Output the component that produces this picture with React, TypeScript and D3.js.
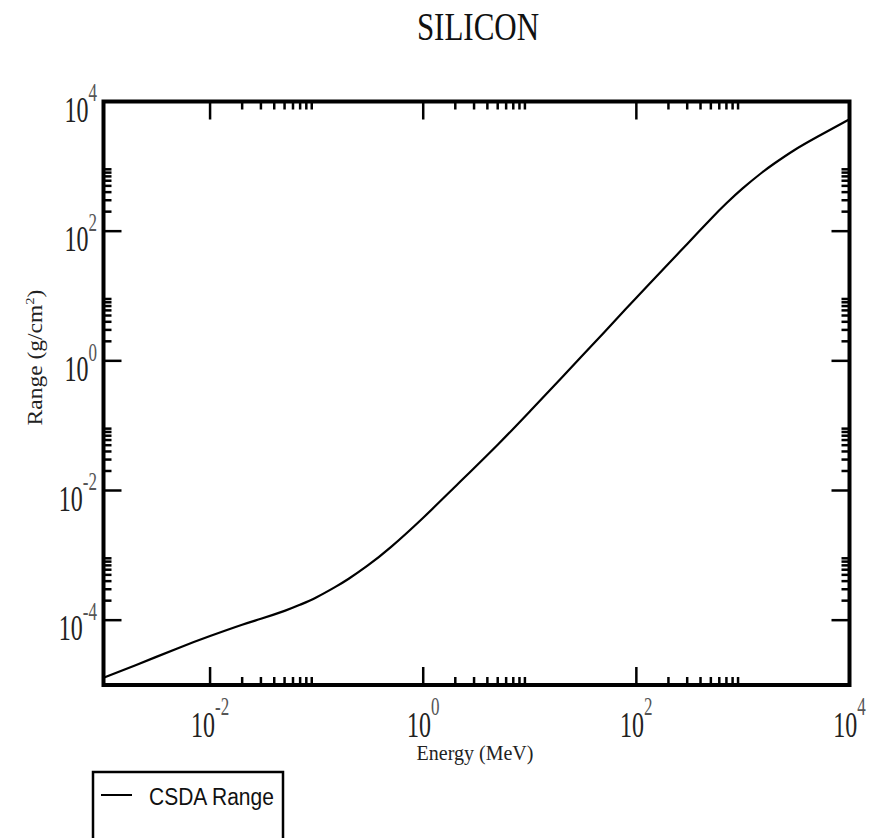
import React from "react";
import * as d3 from "d3";

// Data (Silicon, CSDA range vs energy)
const energyMeV = [1e-3, 2e-3, 5e-3, 1e-2, 2e-2, 3e-2, 5e-2, 7e-2, 0.1, 0.15, 0.2, 0.3, 0.5, 1, 2, 5, 10, 20, 50, 100, 200, 300, 500, 700, 1000, 1500, 2000, 3000, 5000, 10000];
const csdaRange = [1.29e-5, 2.02e-5, 3.7e-5, 5.69e-5, 8.5e-5, 1.05e-4, 1.39e-4, 1.73e-4, 2.26e-4, 3.26e-4, 4.35e-4, 6.92e-4, 1.35e-3, 3.8e-3, 1.153e-2, 5.09e-2, 0.1656, 0.553, 2.77, 9.4, 31.4, 63.5, 154.5, 269, 460, 796, 1125, 1758, 2858, 5333];

const xMajorExps = [-2, 0, 2, 4];
const xMinorDecades = [-2, 0, 2];
const yMajorExps = [-4, -2, 0, 2, 4];
const yMinorDecades = [-4, -2, 0, 2];
const minorMultipliers = [2, 3, 4, 5, 6, 7, 8, 9];

const title = "SILICON";
const xTitle = "Energy (MeV)";
const yTitleMain = "Range (g/cm";
const yTitleSup = "2";
const legendLabel = "CSDA Range";

const W = 879;
const H = 838;
const left = 103.5, right = 849.5, top = 101.5, bottom = 685;

export default function App() {
  const x = d3.scaleLog().domain([1e-3, 1e4]).range([left, right]);
  const y = d3.scaleLog().domain([1e-5, 1e4]).range([bottom, top]);
  const pts: [number, number][] = energyMeV.map((e, i) => [x(e), y(csdaRange[i])]);
  const line = d3.line().curve(d3.curveNatural)(pts) || "";

  const xMinor: number[] = [];
  xMinorDecades.forEach((d) => minorMultipliers.forEach((m) => xMinor.push(m * Math.pow(10, d))));
  const yMinor: number[] = [];
  yMinorDecades.forEach((d) => minorMultipliers.forEach((m) => yMinor.push(m * Math.pow(10, d))));

  const serif = "'Liberation Serif', 'DejaVu Serif', serif";
  const sans = "'Liberation Sans', Arial, sans-serif";
  const majorLen = 18, minorLen = 8, tickW = 2.5;

  return (
    <svg width={W} height={H} style={{ position: "absolute", left: 0, top: 0, background: "#fff" }}>
      <rect x={0} y={0} width={W} height={H} fill="#fff" />
      {/* title */}
      <g transform={`translate(478,40) scale(1,1.3)`}>
        <text textAnchor="middle" fontFamily={serif} fontSize={31} fill="#111">{title}</text>
      </g>

      {/* curve */}
      <path d={line} fill="none" stroke="#000" strokeWidth={2.2} />

      {/* x ticks (bottom + top) */}
      {xMajorExps.map((e) => {
        const px = x(Math.pow(10, e));
        return (
          <g key={"xM" + e}>
            <line x1={px} x2={px} y1={bottom} y2={bottom - majorLen} stroke="#000" strokeWidth={tickW} />
            <line x1={px} x2={px} y1={top} y2={top + majorLen} stroke="#000" strokeWidth={tickW} />
          </g>
        );
      })}
      {xMinor.map((v, i) => {
        const px = x(v);
        return (
          <g key={"xm" + i}>
            <line x1={px} x2={px} y1={bottom} y2={bottom - minorLen} stroke="#000" strokeWidth={tickW} />
            <line x1={px} x2={px} y1={top} y2={top + minorLen} stroke="#000" strokeWidth={tickW} />
          </g>
        );
      })}

      {/* y ticks (left + right) */}
      {yMajorExps.map((e) => {
        const py = y(Math.pow(10, e));
        return (
          <g key={"yM" + e}>
            <line x1={left} x2={left + majorLen} y1={py} y2={py} stroke="#000" strokeWidth={tickW} />
            <line x1={right} x2={right - majorLen} y1={py} y2={py} stroke="#000" strokeWidth={tickW} />
          </g>
        );
      })}
      {yMinor.map((v, i) => {
        const py = y(v);
        return (
          <g key={"ym" + i}>
            <line x1={left} x2={left + minorLen} y1={py} y2={py} stroke="#000" strokeWidth={tickW} />
            <line x1={right} x2={right - minorLen} y1={py} y2={py} stroke="#000" strokeWidth={tickW} />
          </g>
        );
      })}

      {/* frame */}
      <rect x={left} y={top} width={right - left} height={bottom - top} fill="none" stroke="#000" strokeWidth={4} />

      {/* x tick labels */}
      {xMajorExps.map((e) => (
        <g key={"xl" + e} transform={`translate(${x(Math.pow(10, e))},737) scale(1,1.45)`}>
          <text textAnchor="middle" fontFamily={serif} fontSize={24} fill="#222">
            10<tspan dy={-15} fontSize={17} fill="#555">{String(e)}</tspan>
          </text>
        </g>
      ))}

      {/* y tick labels */}
      {yMajorExps.map((e) => (
        <g key={"yl" + e} transform={`translate(97,${y(Math.pow(10, e)) + 20}) scale(1,1.45)`}>
          <text textAnchor="end" fontFamily={serif} fontSize={24} fill="#222">
            10<tspan dy={-14} fontSize={17} fill="#555">{String(e)}</tspan>
          </text>
        </g>
      ))}

      {/* axis titles */}
      <text x={475} y={760} textAnchor="middle" fontFamily={serif} fontSize={20} fill="#222">{xTitle}</text>
      <g transform={`translate(41.5,357.5) rotate(-90) scale(1.12,1)`}>
        <text textAnchor="middle" fontFamily={serif} fontSize={21} fill="#222">
          {yTitleMain}<tspan dy={-8} fontSize={13}>{yTitleSup}</tspan><tspan dy={8}>)</tspan>
        </text>
      </g>

      {/* legend */}
      <rect x={93} y={772} width={190} height={72} fill="#fff" stroke="#000" strokeWidth={2.5} />
      <line x1={101} x2={132} y1={795} y2={795} stroke="#000" strokeWidth={2} />
      <g transform="translate(149,805) scale(1,1.1)">
        <text fontFamily={sans} fontSize={21} fill="#111">{legendLabel}</text>
      </g>
    </svg>
  );
}
